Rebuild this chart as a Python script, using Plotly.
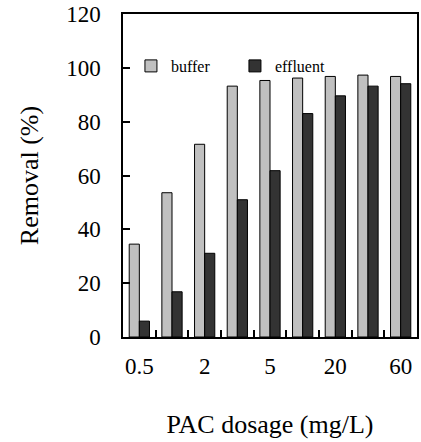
import plotly.graph_objects as go

# PAC dosage groups (only every other one is labelled on the axis)
categories = ["0.5", "1", "2", "3", "5", "10", "20", "40", "60"]
tick_labels = ["0.5", "", "2", "", "5", "", "20", "", "60"]
buffer_vals = [34.5, 53.6, 71.6, 93.2, 95.3, 96.2, 96.8, 97.3, 96.8]
effluent_vals = [5.9, 16.8, 31.1, 51.0, 61.8, 83.0, 89.6, 93.2, 94.1]

FONT = "Liberation Serif, Times New Roman, serif"

fig = go.Figure()
fig.add_trace(go.Bar(
    x=categories, y=buffer_vals, name="buffer",
    marker=dict(color="#c0c0c0", line=dict(color="black", width=1)),
))
fig.add_trace(go.Bar(
    x=categories, y=effluent_vals, name="effluent",
    marker=dict(color="#333333", line=dict(color="black", width=1)),
))

fig.update_layout(
    width=421, height=442,
    margin=dict(l=123, r=4, t=14, b=105),
    plot_bgcolor="white", paper_bgcolor="white",
    barmode="group", bargap=0.38, bargroupgap=0,
    font=dict(family=FONT, color="black", size=23),
    legend=dict(
        orientation="h", x=0.027, y=0.839, xanchor="left", yanchor="middle",
        font=dict(family=FONT, size=16, color="black"),
        bgcolor="rgba(0,0,0,0)", entrywidth=59, entrywidthmode="pixels",
    ),
)
fig.update_xaxes(
    type="category", automargin=False, tickangle=0,
    tickmode="array", tickvals=categories, ticktext=tick_labels,
    tickson="boundaries", ticks="inside", ticklen=7, tickcolor="black", tickwidth=1.5,
    showline=True, linecolor="black", linewidth=1.5, mirror=True,
    showgrid=False, zeroline=False,
    tickfont=dict(family=FONT, size=23),
    ticklabelstandoff=8,
    title=dict(text="PAC dosage (mg/L)", font=dict(family=FONT, size=26), standoff=36),
)
fig.update_yaxes(
    range=[0, 120], dtick=20, tick0=0, automargin=False,
    ticks="inside", ticklen=7, tickcolor="black", tickwidth=1.5,
    showline=True, linecolor="black", linewidth=1.5, mirror=True,
    showgrid=False, zeroline=False,
    tickfont=dict(family=FONT, size=23),
    ticklabelstandoff=16,
    title=dict(text="Removal (%)", font=dict(family=FONT, size=26), standoff=20),
)

fig.write_html(
    "out.html",
    config={"displayModeBar": False},
    post_script="document.body.style.margin='0';document.body.style.overflow='hidden';",
)
